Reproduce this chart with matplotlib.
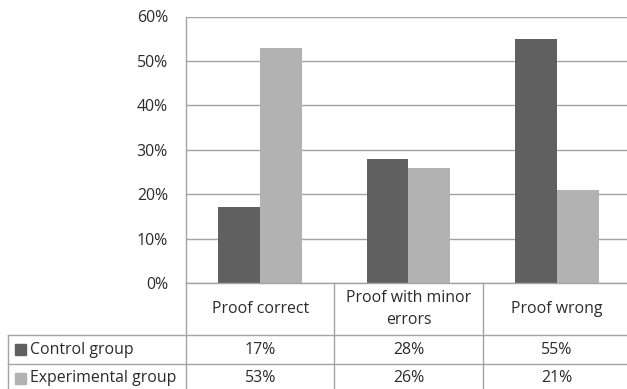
import numpy as np
import matplotlib.pyplot as plt
from matplotlib.lines import Line2D
from matplotlib.patches import Rectangle

# chart data
categories = ['Proof correct', 'Proof with minor\nerrors', 'Proof wrong']
series_names = ['Control group', 'Experimental group']
control = [17, 28, 55]
experimental = [53, 26, 21]
yticks = [0, 10, 20, 30, 40, 50, 60]

dark = '#606060'
light = '#b2b2b2'
line_col = '#a3a3a3'
text_col = '#2b2b2b'
fs = 11.4

plt.rcParams['font.family'] = ['Open Sans', 'DejaVu Sans']

W, H = 627, 389
fig = plt.figure(figsize=(W / 100, H / 100), dpi=100)

def fx(px):
    return px / W

def fy(py):
    return 1 - py / H

# plot area in pixel terms
left, right, top, bottom = 186, 631, 16.5, 283
ax = fig.add_axes([fx(left), fy(bottom), fx(right - left), fy(top) - fy(bottom)])

x = np.arange(len(categories))
w = 0.283
ax.bar(x - w / 2, control, w, color=dark, zorder=3)
ax.bar(x + w / 2, experimental, w, color=light, zorder=3)

ax.set_xlim(-0.5, len(categories) - 0.5)
ax.set_ylim(0, 60)
ax.set_yticks(yticks)
ax.set_yticklabels([f'{t}%' for t in yticks], fontsize=fs, color=text_col)
ax.tick_params(axis='y', length=0, pad=13)
ax.set_xticks([])
ax.grid(axis='y', color=line_col, linewidth=1, zorder=0)
for side in ['top', 'right', 'bottom']:
    ax.spines[side].set_visible(False)
ax.spines['left'].set_color(line_col)
ax.spines['left'].set_linewidth(1)

# data table under the axes
cat_w = (right - left) / len(categories)
row_y = [283, 335, 364, 393]
label_left = 8

def hline(x0, x1, y):
    fig.add_artist(Line2D([fx(x0), fx(x1)], [fy(y), fy(y)], color=line_col, lw=1))

def vline(xp, y0, y1):
    fig.add_artist(Line2D([fx(xp), fx(xp)], [fy(y0), fy(y1)], color=line_col, lw=1))

hline(left, W + 5, row_y[0])
hline(label_left, W + 5, row_y[1])
hline(label_left, W + 5, row_y[2])
vline(left, row_y[0], H + 5)
vline(label_left, row_y[1], H + 5)
for i in range(1, len(categories) + 1):
    vline(left + i * cat_w, row_y[0], H + 5)

for i, cat in enumerate(categories):
    cx = left + (i + 0.5) * cat_w
    fig.text(fx(cx), fy((row_y[0] + row_y[1]) / 2), cat, ha='center', va='center',
             fontsize=fs, color=text_col, linespacing=1.45)

for r, (name, vals, col) in enumerate(zip(series_names, [control, experimental], [dark, light])):
    cy = (row_y[r + 1] + row_y[r + 2]) / 2
    fig.add_artist(Rectangle((fx(15), fy(cy + 5.5)), fx(11), fy(cy - 5.5) - fy(cy + 5.5),
                             color=col, transform=fig.transFigure))
    fig.text(fx(30), fy(cy), name, ha='left', va='center', fontsize=fs, color=text_col)
    for i, v in enumerate(vals):
        cx = left + (i + 0.5) * cat_w
        fig.text(fx(cx), fy(cy), f'{v}%', ha='center', va='center', fontsize=fs, color=text_col)

fig.savefig('out.png', dpi=100)
